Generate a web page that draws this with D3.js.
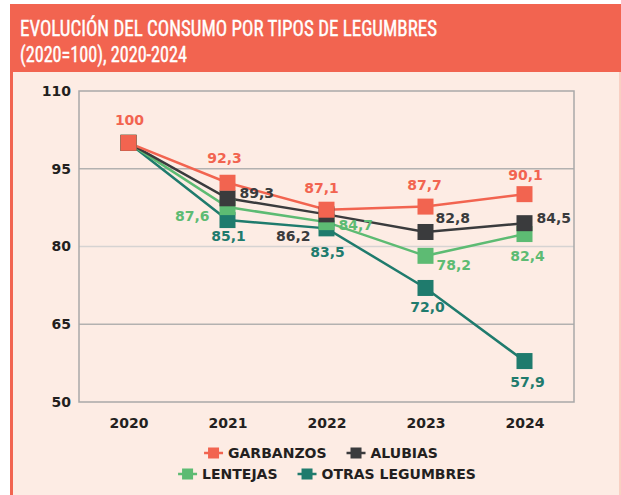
<!DOCTYPE html>
<html>
<head>
<meta charset="utf-8">
<script src="https://cdn.jsdelivr.net/npm/d3@7"></script>
<style>
  html, body { margin: 0; padding: 0; background: #fff; }
  svg { display: block; }
</style>
</head>
<body>
<div id="chart"></div>
<script>
// data
const years = ["2020", "2021", "2022", "2023", "2024"];
const garbanzos = [100, 92.3, 87.1, 87.7, 90.1];
const alubias = [100, 89.3, 86.2, 82.8, 84.5];
const lentejas = [100, 87.6, 84.7, 78.2, 82.4];
const otras = [100, 85.1, 83.5, 72.0, 57.9];
const yTicks = [50, 65, 80, 95, 110];

const W = 621, H = 495;
const red = "#f26450";
const font = "'DejaVu Sans', Verdana, sans-serif";

// label placement per point: [anchor, dx, dy]
const series = [
  { name: "OTRAS LEGUMBRES", values: otras, color: "#1f7b6d",
    labels: [null, ["middle", 1, 16], ["middle", 1, 24], ["middle", 2, 19], ["middle", 3, 21]] },
  { name: "LENTEJAS", values: lentejas, color: "#5dbb73",
    labels: [null, ["end", -18, 9], ["start", 12, 3], ["start", 11, 9], ["middle", 3, 22]] },
  { name: "ALUBIAS", values: alubias, color: "#3a3b3d",
    labels: [null, ["start", 12, -5], ["end", -16, 22], ["start", 10, -14], ["start", 12, -5]] },
  { name: "GARBANZOS", values: garbanzos, color: red,
    labels: [["middle", 1, -23], ["middle", -3, -25], ["middle", -5, -22], ["middle", -1, -21], ["middle", 1, -19]] }
];

const svg = d3.select("#chart").append("svg")
  .attr("width", W).attr("height", H);

// panel
svg.append("rect").attr("x", 10).attr("y", 4).attr("width", W - 10).attr("height", H - 4)
  .attr("fill", "#fdece4");
svg.append("rect").attr("x", 10).attr("y", 71).attr("width", 3).attr("height", H - 71)
  .attr("fill", red);
svg.append("rect").attr("x", 619).attr("y", 71).attr("width", 2).attr("height", H - 71)
  .attr("fill", "#f9cfc2");
svg.append("rect").attr("x", 10).attr("y", 4).attr("width", W - 10).attr("height", 68)
  .attr("fill", red);

// title
const title = svg.append("g")
  .attr("fill", "#fff")
  .attr("stroke", "#fff").attr("stroke-width", 0.4)
  .style("font-family", "'Liberation Sans Narrow', 'Roboto Condensed', 'Liberation Sans', Arial, sans-serif")
  .style("font-size", "22px");
title.append("text").attr("x", 20).attr("y", 36)
  .attr("textLength", 417).attr("lengthAdjust", "spacingAndGlyphs")
  .text("EVOLUCIÓN DEL CONSUMO POR TIPOS DE LEGUMBRES");
title.append("text").attr("x", 20).attr("y", 62)
  .attr("textLength", 167).attr("lengthAdjust", "spacingAndGlyphs")
  .text("(2020=100), 2020-2024");

const plotL = 79, plotR = 574, plotT = 91, plotB = 402;

const x = d3.scalePoint().domain(years).range([plotL, plotR]).padding(0.5);
const y = d3.scaleLinear().domain([50, 110]).range([plotB, plotT]);

// grid
svg.append("g").selectAll("line")
  .data(yTicks.filter(t => t > 50 && t < 110))
  .join("line")
  .attr("x1", plotL).attr("x2", plotR)
  .attr("y1", d => y(d)).attr("y2", d => y(d))
  .attr("stroke", d => d === 80 ? "#d6d3d2" : "#b3b1b0")
  .attr("stroke-width", 1.5);

// frame
svg.append("rect")
  .attr("x", plotL).attr("y", plotT).attr("width", plotR - plotL).attr("height", plotB - plotT)
  .attr("fill", "none").attr("stroke", "#a9a8a8").attr("stroke-width", 1.5);

// Y axis
const yAxis = svg.append("g")
  .attr("transform", `translate(${plotL},0)`)
  .call(d3.axisLeft(y).tickValues(yTicks).tickSize(0).tickPadding(8));
yAxis.select(".domain").remove();
yAxis.selectAll("text")
  .attr("fill", "#231f20")
  .style("font-family", font).style("font-weight", "bold").style("font-size", "14px");

// X axis
const xAxis = svg.append("g")
  .attr("transform", `translate(0,${plotB})`)
  .call(d3.axisBottom(x).tickSize(0).tickPadding(16));
xAxis.select(".domain").remove();
xAxis.selectAll("text")
  .attr("fill", "#231f20")
  .style("font-family", font).style("font-weight", "bold").style("font-size", "14px");

// lines
const line = d3.line().x((d, i) => x(years[i])).y(d => y(d));
series.forEach(s => {
  svg.append("path")
    .datum(s.values)
    .attr("d", line)
    .attr("fill", "none")
    .attr("stroke", s.color)
    .attr("stroke-width", 2.5);
});

// markers
series.forEach(s => {
  svg.append("g").selectAll("rect")
    .data(s.values)
    .join("rect")
    .attr("x", (d, i) => x(years[i]) - 8)
    .attr("y", d => y(d) - 8)
    .attr("width", 16).attr("height", 16)
    .attr("fill", s.color);
});

// value labels
series.forEach(s => {
  svg.append("g").selectAll("text")
    .data(s.values.map((v, i) => ({ v, i, p: s.labels[i] })).filter(d => d.p))
    .join("text")
    .attr("x", d => x(years[d.i]) + d.p[1])
    .attr("y", d => y(d.v) + d.p[2])
    .attr("dy", "0.35em")
    .attr("text-anchor", d => d.p[0])
    .attr("fill", s.color)
    .style("font-family", font).style("font-weight", "bold").style("font-size", "14px")
    .text(d => d.v === 100 ? "100" : d.v.toFixed(1).replace(".", ","));
});

// legend
const legendRows = [
  [series[3], series[2]],
  [series[1], series[0]]
];
const legendY = [453, 474];
legendRows.forEach((row, r) => {
  const g = svg.append("g");
  let cx = 0;
  row.forEach(s => {
    const item = g.append("g").attr("transform", `translate(${cx},0)`);
    item.append("line").attr("x1", 0).attr("x2", 19).attr("y1", 0).attr("y2", 0)
      .attr("stroke", s.color).attr("stroke-width", 2.5);
    item.append("rect").attr("x", 4).attr("y", -5.5).attr("width", 11).attr("height", 11)
      .attr("fill", s.color);
    const t = item.append("text").attr("x", 24).attr("y", 0).attr("dy", "0.36em")
      .attr("fill", "#231f20")
      .style("font-family", font).style("font-weight", "bold").style("font-size", "14px")
      .text(s.name);
    cx += 24 + t.node().getComputedTextLength() + 20;
  });
  const w = cx - 20;
  g.attr("transform", `translate(${(r === 0 ? 321 : 327) - w / 2},${legendY[r]})`);
});
</script>
</body>
</html>
